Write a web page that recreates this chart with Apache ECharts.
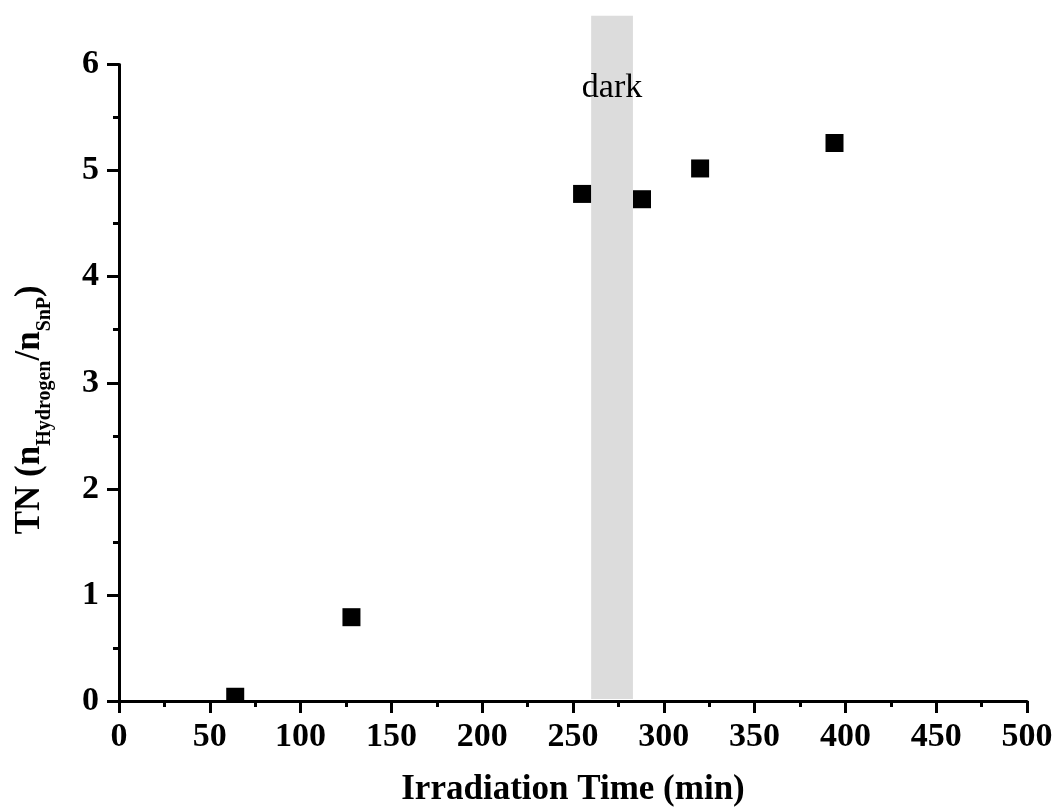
<!DOCTYPE html>
<html>
<head>
<meta charset="utf-8">
<script src="https://cdn.jsdelivr.net/npm/echarts@6/dist/echarts.min.js"></script>
<style>
  html, body { margin: 0; padding: 0; background: #fff; }
  #chart { width: 1057px; height: 807px; }
</style>
</head>
<body>
<div id="chart"></div>
<script>
// irradiation time (min) and turnover number
const times = [64, 128, 255, 288, 320, 394]
const tnValues = [0.04, 0.79, 4.78, 4.73, 5.02, 5.26]

// dark period shading
const darkStart = 260
const darkEnd = 283
const darkTop = 6.46
const darkLabelY = 5.78

const xTicks = { min: 0, max: 500, interval: 50 }
const yTicks = { min: 0, max: 6, interval: 1 }

const font = '"Liberation Serif", "Times New Roman", serif'

const points = times.map((t, i) => [t, tnValues[i]])

const chart = echarts.init(document.getElementById('chart'))

const axisCommon = {
  axisLine: { show: true, onZero: false, lineStyle: { color: '#000', width: 3 } },
  axisTick: { show: true, inside: false, length: 12, lineStyle: { color: '#000', width: 3 } },
  minorTick: { show: true, splitNumber: 2, length: 6, lineStyle: { color: '#000', width: 3 } },
  splitLine: { show: false },
  axisLabel: { color: '#000', fontFamily: font, fontWeight: 'bold', fontSize: 34 }
}

chart.setOption({
  animation: false,
  backgroundColor: '#fff',
  grid: { left: 119, right: 30, top: 64.5, bottom: 106, containLabel: false, outerBoundsMode: 'none' },
  xAxis: Object.assign({}, axisCommon, {
    type: 'value',
    min: xTicks.min,
    max: xTicks.max,
    interval: xTicks.interval,
    name: 'Irradiation Time (min)',
    nameLocation: 'middle',
    nameGap: 71,
    nameTextStyle: { color: '#000', fontFamily: font, fontWeight: 'bold', fontSize: 35 },
    axisLabel: Object.assign({}, axisCommon.axisLabel, { margin: 19 })
  }),
  yAxis: Object.assign({}, axisCommon, {
    type: 'value',
    min: yTicks.min,
    max: yTicks.max,
    interval: yTicks.interval,
    name: '{m|TN (n}{s|Hydrogen}{m|/n}{s|SnP}{m|)}',
    nameLocation: 'middle',
    nameRotate: 90,
    nameGap: 72,
    nameTextStyle: {
      padding: [0, 54, 0, 0],
      rich: {
        m: { color: '#000', fontFamily: font, fontWeight: 'bold', fontSize: 35, lineHeight: 35 },
        s: { color: '#000', fontFamily: font, fontWeight: 'bold', fontSize: 20, lineHeight: 20, padding: [30, 0, 0, 0] }
      }
    },
    axisLabel: Object.assign({}, axisCommon.axisLabel, { margin: 20 })
  }),
  series: [
    {
      // grey band for the dark period, drawn through the axes
      type: 'custom',
      z: 1,
      clip: false,
      data: [[darkStart, darkEnd, darkTop]],
      renderItem: function (params, api) {
        const p0 = api.coord([api.value(0), 0])
        const p1 = api.coord([api.value(1), api.value(2)])
        const mid = api.coord([(api.value(0) + api.value(1)) / 2, darkLabelY])
        return {
          type: 'group',
          children: [
            {
              type: 'rect',
              shape: { x: p0[0], y: p1[1], width: p1[0] - p0[0], height: p0[1] - p1[1] - 2 },
              style: { fill: '#dcdcdc' }
            },
            {
              type: 'text',
              style: {
                x: mid[0], y: mid[1], text: 'dark', fill: '#000',
                font: '34px ' + font, align: 'center', verticalAlign: 'middle'
              }
            }
          ]
        }
      }
    },
    {
      // square markers, clipped at the plot edges
      type: 'custom',
      z: 2,
      data: points,
      renderItem: function (params, api) {
        const p = api.coord([api.value(0), api.value(1)])
        const s = 18
        const rect = echarts.graphic.clipRectByRect(
          { x: p[0] - s / 2, y: p[1] - s / 2, width: s, height: s },
          { x: params.coordSys.x, y: params.coordSys.y, width: params.coordSys.width, height: params.coordSys.height }
        )
        return rect && { type: 'rect', shape: rect, style: { fill: '#000' } }
      }
    }
  ]
})
</script>
</body>
</html>
